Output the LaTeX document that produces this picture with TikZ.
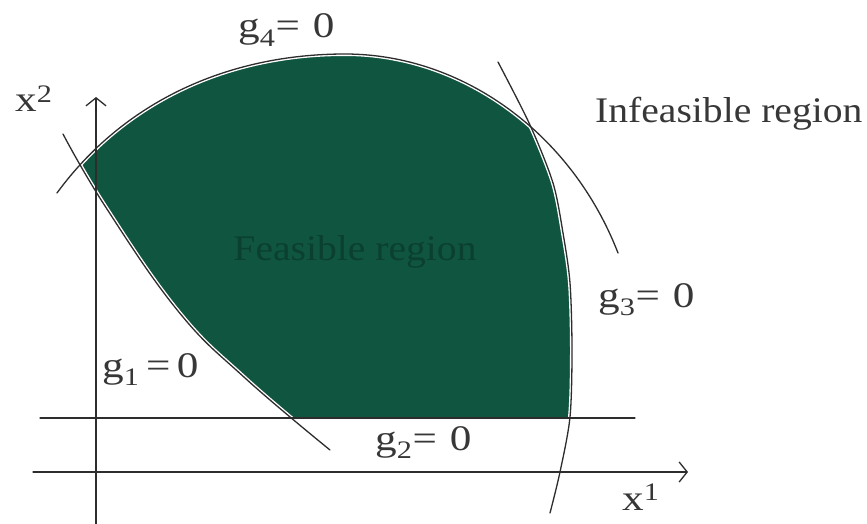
\documentclass[tikz,border=0pt]{standalone}
\usepackage{fontspec}
\setmainfont{Liberation Serif}
\usetikzlibrary{arrows.meta}
\definecolor{linecol}{RGB}{45,45,45}
\definecolor{txtcol}{RGB}{55,55,55}
\definecolor{feasfill}{RGB}{15,85,64}
\definecolor{feastxt}{RGB}{11,64,48}
\newcommand\hstr[1]{\scalebox{1.2}[1]{#1}}
\begin{document}
\begin{tikzpicture}[x=1pt,y=-1pt, line join=round, line cap=round,
  ln/.style={draw=linecol, line width=1.3pt},
  halo/.style={draw=white, line width=4pt},
  lbl/.style={anchor=base west, inner sep=0pt, text=txtcol, font=\fontsize{36}{42}\selectfont},
  arr/.style={-{Straight Barb[length=8pt,width=20pt,line width=1.3pt]}}]
\useasboundingbox (0,0) rectangle (867,524);

% feasible region = intersection of the four half-planes
\begin{scope}
  \clip (57,193) .. controls (125,100) and (230,54) .. (345,54) .. controls (463,54) and (572,134) .. (618,253) -- (618,430) -- (57,430) -- cycle;
  \clip plot[smooth,tension=0.7] coordinates {(63,134) (105,206) (178,311) (245,378) (330,450)} -- (700,450) -- (700,0) -- (-16,0) -- cycle;
  \clip plot[smooth] coordinates {(498,62) (530,125) (553,183) (563,233) (570,283) (572,350) (570,417) (560,472) (550,513)} -- (0,513) -- (0,0) -- (467,0) -- cycle;
  \fill[feasfill] (0,0) rectangle (867,418);
\end{scope}
\node[inner sep=0pt, text=feastxt, font=\fontsize{36}{42}\selectfont] (feas) at (355,252) {\scalebox{1.1}[1]{Feasible region}};

% white halos along the boundary
\draw[halo] (57,193) .. controls (125,100) and (230,54) .. (345,54) .. controls (463,54) and (572,134) .. (618,253);
\draw[halo] plot[smooth] coordinates {(498,62) (530,125) (553,183) (563,233) (570,283) (572,350) (570,417) (560,472) (550,513)};
\draw[halo] plot[smooth,tension=0.7] coordinates {(63,134) (105,206) (178,311) (245,378) (330,450)};

% constraint curves
\draw[ln] (57,193) .. controls (125,100) and (230,54) .. (345,54) .. controls (463,54) and (572,134) .. (618,253);
\draw[ln] plot[smooth] coordinates {(498,62) (530,125) (553,183) (563,233) (570,283) (572,350) (570,417) (560,472) (550,513)};
\draw[ln] plot[smooth,tension=0.7] coordinates {(63,134) (105,206) (178,311) (245,378) (330,450)};

% g2 line and axes
\coordinate (g2L) at (40,418);
\coordinate (g2R) at (635,418);
\coordinate (yB) at (96,524);
\coordinate (yT) at (96,97);
\coordinate (xL) at (33,472);
\coordinate (xR) at (688,472);
\draw[ln] (g2L) -- (g2R);
\draw[ln,arr] (yB) -- (yT);
\draw[ln,arr] (xL) -- (xR);

% labels
\node[lbl] (lg4) at (238,38) {\hstr{g\textsubscript{4}=\hspace{0.3em}0}};
\node[lbl] (lx2) at (15,112) {\hstr{x\textsuperscript{2}}};
\node[lbl] (linf) at (595,123) {\scalebox{1.1}[1]{Infeasible region}};
\node[lbl] (lg3) at (598,307) {\hstr{g\textsubscript{3}=\hspace{0.3em}0}};
\node[lbl] (lg1) at (102,377) {\hstr{g\textsubscript{1}\hspace{0.15em}=\hspace{0.15em}0}};
\node[lbl] (lg2) at (375,450) {\hstr{g\textsubscript{2}=\hspace{0.3em}0}};
\node[lbl] (lx1) at (622,510) {\hstr{x\textsuperscript{1}}};
\end{tikzpicture}
\end{document}
